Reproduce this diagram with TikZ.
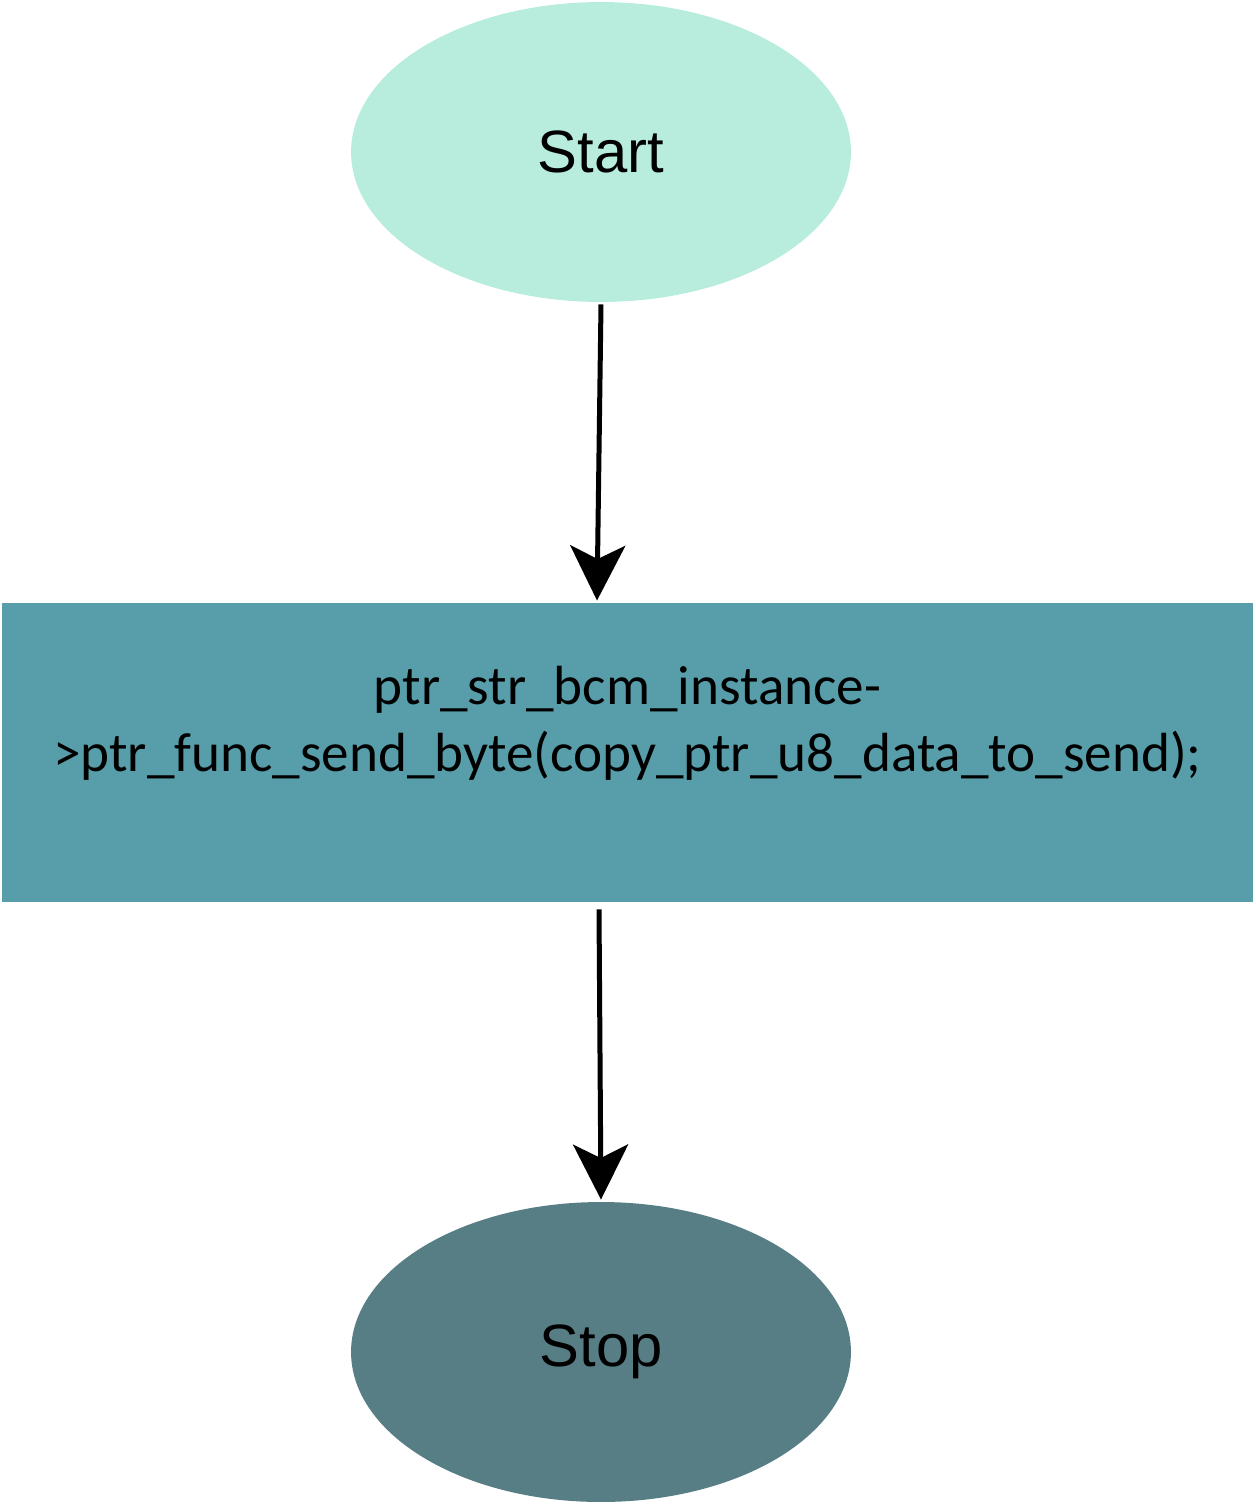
\documentclass[tikz,border=0pt]{standalone}
\usepackage{fontspec}
\setmainfont{Liberation Sans}
\newfontfamily\calfont{Carlito}
\usetikzlibrary{shapes.geometric}
\usetikzlibrary{arrows.meta}
\definecolor{startcol}{RGB}{184,237,222}
\definecolor{boxcol}{RGB}{87,158,170}
\definecolor{stopcol}{RGB}{87,125,133}
\tikzset{
	main node/.style={ellipse,inner sep=0pt,minimum width=10cm,minimum height=6cm,
		font=\fontsize{34}{41}\selectfont},
	box node/.style={rectangle,inner sep=0pt,minimum width=25.02cm,minimum height=5.98cm,
		align=center,font=\calfont\fontsize{31.4}{38.5}\selectfont}
}

\begin{document}
\begin{tikzpicture}[x=0.02cm,y=-0.02cm,
            line width=0.1cm,>={Stealth[length=1.1cm,width=1.1cm,inset=0.27cm]}]
            \useasboundingbox (0,0) rectangle (1255,1505);
            \node [main node,fill=startcol] (1) at (601,152) {Start};
            \node [box node,fill=boxcol] (2) at (627.5,752.5)
              {ptr\_str\_bcm\_instance-\\>ptr\_func\_send\_byte(copy\_ptr\_u8\_data\_to\_send);\\ ~};
            \node [main node,fill=stopcol] (3) at (601,1352) {Stop};
            \draw [->] (1.south) -- ([xshift=-0.61cm]2.north);
            \draw [->] ([xshift=-0.57cm,yshift=-0.1cm]2.south) -- (3.north);
          \end{tikzpicture}
\end{document}
